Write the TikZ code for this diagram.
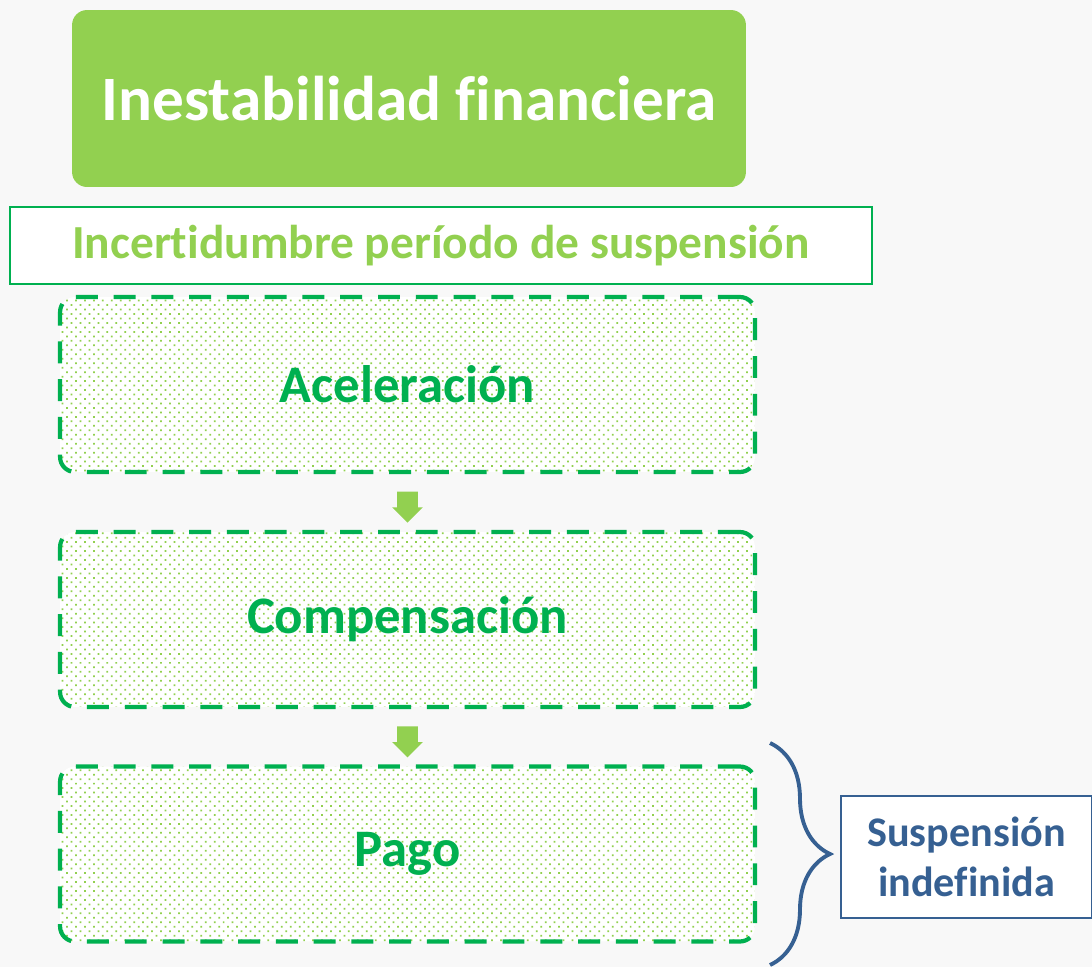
\documentclass[tikz,border=0pt]{standalone}
\usepackage{fontspec}
\setmainfont{Carlito}[Ligatures={NoCommon}]
\usetikzlibrary{patterns.meta,shapes.arrows,decorations.pathreplacing,calc}
\definecolor{verdeclaro}{HTML}{92D050}
\definecolor{verde}{HTML}{00B050}
\definecolor{azul}{HTML}{366092}
\definecolor{fondo}{HTML}{F8F8F8}
\begin{document}
\begin{tikzpicture}[x=0.02cm,y=-0.02cm,
    titulo/.style={fill=verdeclaro,rounded corners=0.3cm,minimum width=13.48cm,minimum height=3.54cm,
        text=white,font=\fontsize{36}{40}\selectfont\bfseries},
    subtitulo/.style={draw=verde,line width=1.2pt,fill=white,minimum width=17.24cm,minimum height=1.54cm,
        text=verdeclaro,font=\fontsize{27}{32}\selectfont\bfseries},
    etapa/.style={draw=verde,line width=2.4pt,dash pattern=on 12.5pt off 9pt,rounded corners=0.3cm,
        preaction={fill=white},pattern={Dots[distance=3.6pt,angle=45,radius=0.7pt]},pattern color=verdeclaro,
        minimum width=13.9cm,minimum height=3.5cm,text=verde,font=\fontsize{30}{36}\selectfont\bfseries},
    flecha/.style={shape=single arrow,shape border rotate=270,fill=verdeclaro,inner sep=0.2cm,
        minimum height=0.58cm,single arrow head extend=0.1cm},
    nota/.style={draw=azul,line width=1.2pt,fill=white,minimum width=5.02cm,minimum height=2.44cm,
        align=center,text=azul,font=\fontsize{24}{28.5}\selectfont\bfseries},
    llave/.style={draw=azul,line width=2.2pt,decorate,decoration={brace,amplitude=1.2cm}}]
    \fill[fondo] (0,0) rectangle (1092,967);
    \useasboundingbox (0,0) rectangle (1092,967);
    % titulo y periodo
    \node[titulo] (inest) at (409,98.5) {Inestabilidad financiera};
    \node[subtitulo] (incert) at (441,245.5) {Incertidumbre período de suspensión};
    % etapas
    \node[etapa] (acel) at (407.5,384.5) {Aceleración};
    \node[etapa] (comp) at (407.5,619.5) {Compensación};
    \node[etapa] (pago) at (407.5,854) {Pago};
    \node[flecha] (f1) at ($(acel.south)!0.5!(comp.north)$) {};
    \node[flecha] (f2) at ($(comp.south)!0.5!(pago.north)$) {};
    % suspension indefinida
    \coordinate (ll1) at (770,743);
    \coordinate (ll2) at (770,965);
    \draw[llave] (ll1) -- (ll2);
    \node[nota] (susp) at (966.5,857) {Suspensión\\indefinida};
\end{tikzpicture}
\end{document}
